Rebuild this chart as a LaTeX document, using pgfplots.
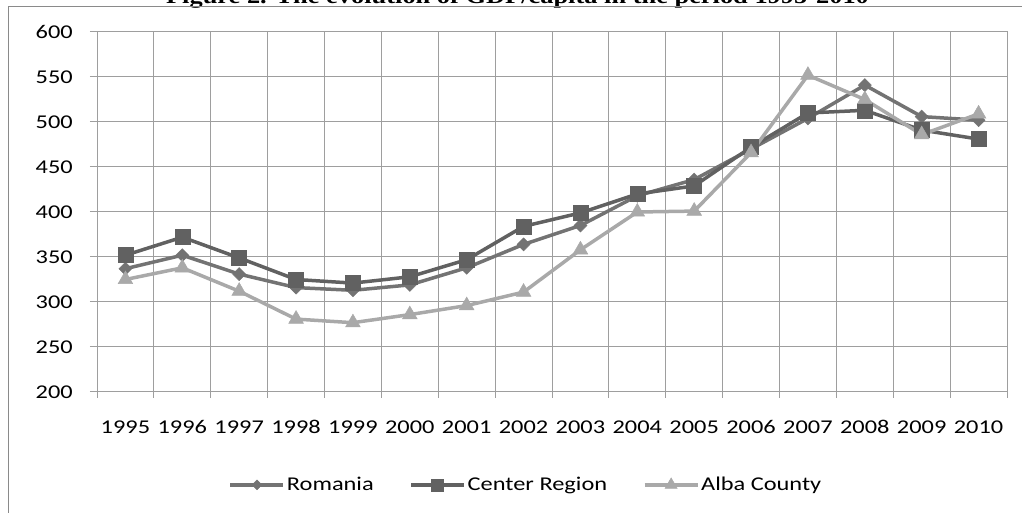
\documentclass[border=0pt]{standalone}
\usepackage{pgfplots}
\pgfplotsset{compat=1.18}
\usepackage{fontspec}
\setmainfont{Carlito}[FakeStretch=1.25]
\newfontfamily\titlefont{Liberation Serif}[FakeStretch=1.2]
\definecolor{romc}{HTML}{737373}
\definecolor{cenc}{HTML}{616161}
\definecolor{albc}{HTML}{A9A9A9}
\definecolor{gridc}{HTML}{9E9E9E}
\definecolor{framec}{HTML}{8A8A8A}
\begin{document}
\begin{tikzpicture}[x=1pt,y=1pt]
\node[anchor=base, font=\titlefont\bfseries\fontsize{22}{26}\selectfont, inner sep=0pt] at (517.5,509.5) {Figure 2. The evolution of GDP/capita in the period 1995-2010};
\draw[framec, line width=1.5pt] (8.5,0) -- (8.5,506.3) -- (1022,506.3);
\begin{axis}[
  at={(97pt,121pt)}, anchor=south west,
  scale only axis, width=910pt, height=360pt,
  xmin=0.5, xmax=16.5, ymin=200, ymax=600,
  xtick={1,...,16},
  xticklabels={1995,1996,1997,1998,1999,2000,2001,2002,2003,2004,2005,2006,2007,2008,2009,2010},
  minor xtick={0.5,1.5,...,16.5},
  ytick={200,250,...,600},
  xminorgrids=true, ymajorgrids=true, xmajorgrids=false,
  tick align=outside, tick pos=left,
  major tick length=7pt, minor tick length=6pt,
  major x tick style={draw=none},
  grid style={color=gridc, line width=1pt},
  minor grid style={color=gridc, line width=1pt},
  axis line style={gridc, line width=1pt},
  tick style={gridc, line width=1pt},
  /pgf/number format/assume math mode=true,
  ticklabel style={font=\fontsize{19.5}{23}\selectfont, text=black},
  yticklabel style={anchor=east, inner sep=0pt, xshift=-17pt},
  xticklabel style={anchor=north, inner sep=0pt, yshift=-22pt, text height=12.5pt, text depth=0pt},
  legend columns=3,
  legend style={at={(0.471,-0.258)}, anchor=center, draw=none, fill=none,
    font=\fontsize{19.5}{23}\selectfont,
    /tikz/every even column/.append style={column sep=34pt},
    nodes={inner sep=1.5pt}},
  legend cell align=left,
  legend image code/.code={\draw[mark repeat=2,mark phase=2,#1] plot coordinates {(0pt,0pt) (26.5pt,0pt) (53pt,0pt)};},
]
\addplot[romc, line width=3.5pt, mark=square*, mark size=4.6pt, mark options={rotate=45, line width=0.5pt, fill=romc, draw=romc}, forget plot] coordinates {
(1,337) (2,352) (3,331) (4,316) (5,313) (6,319) (7,338) (8,364) (9,385) (10,418) (11,436) (12,470) (13,504) (14,541) (15,506) (16,502)};
\addplot[cenc, line width=3.5pt, mark=square*, mark size=7.5pt, mark options={line width=0.5pt, fill=cenc, draw=cenc}, forget plot] coordinates {
(1,352) (2,372) (3,349) (4,325) (5,321) (6,328) (7,347) (8,384) (9,399) (10,420) (11,429) (12,472) (13,510) (14,513) (15,491) (16,481)};
\addplot[albc, line width=3.5pt, mark=triangle*, mark size=8.5pt, mark options={line width=0.5pt, fill=albc, draw=albc}, forget plot] coordinates {
(1,325) (2,338) (3,312) (4,281) (5,277) (6,286) (7,296) (8,311) (9,358) (10,400) (11,401) (12,466) (13,552) (14,525) (15,486) (16,509)};
\addlegendimage{romc, line width=4pt, mark=square*, mark size=3.5pt, mark options={rotate=45, line width=0.5pt, fill=romc, draw=romc}}
\addlegendimage{cenc, line width=4pt, mark=square*, mark size=6pt, mark options={line width=0.5pt, fill=cenc, draw=cenc}}
\addlegendimage{albc, line width=4pt, mark=triangle*, mark size=7pt, mark options={line width=0.5pt, fill=albc, draw=albc}}
\legend{Romania,Center Region,Alba County}
\end{axis}
\pgfresetboundingbox
\path[use as bounding box] (0,0) rectangle (1022,513);
\end{tikzpicture}
\end{document}
